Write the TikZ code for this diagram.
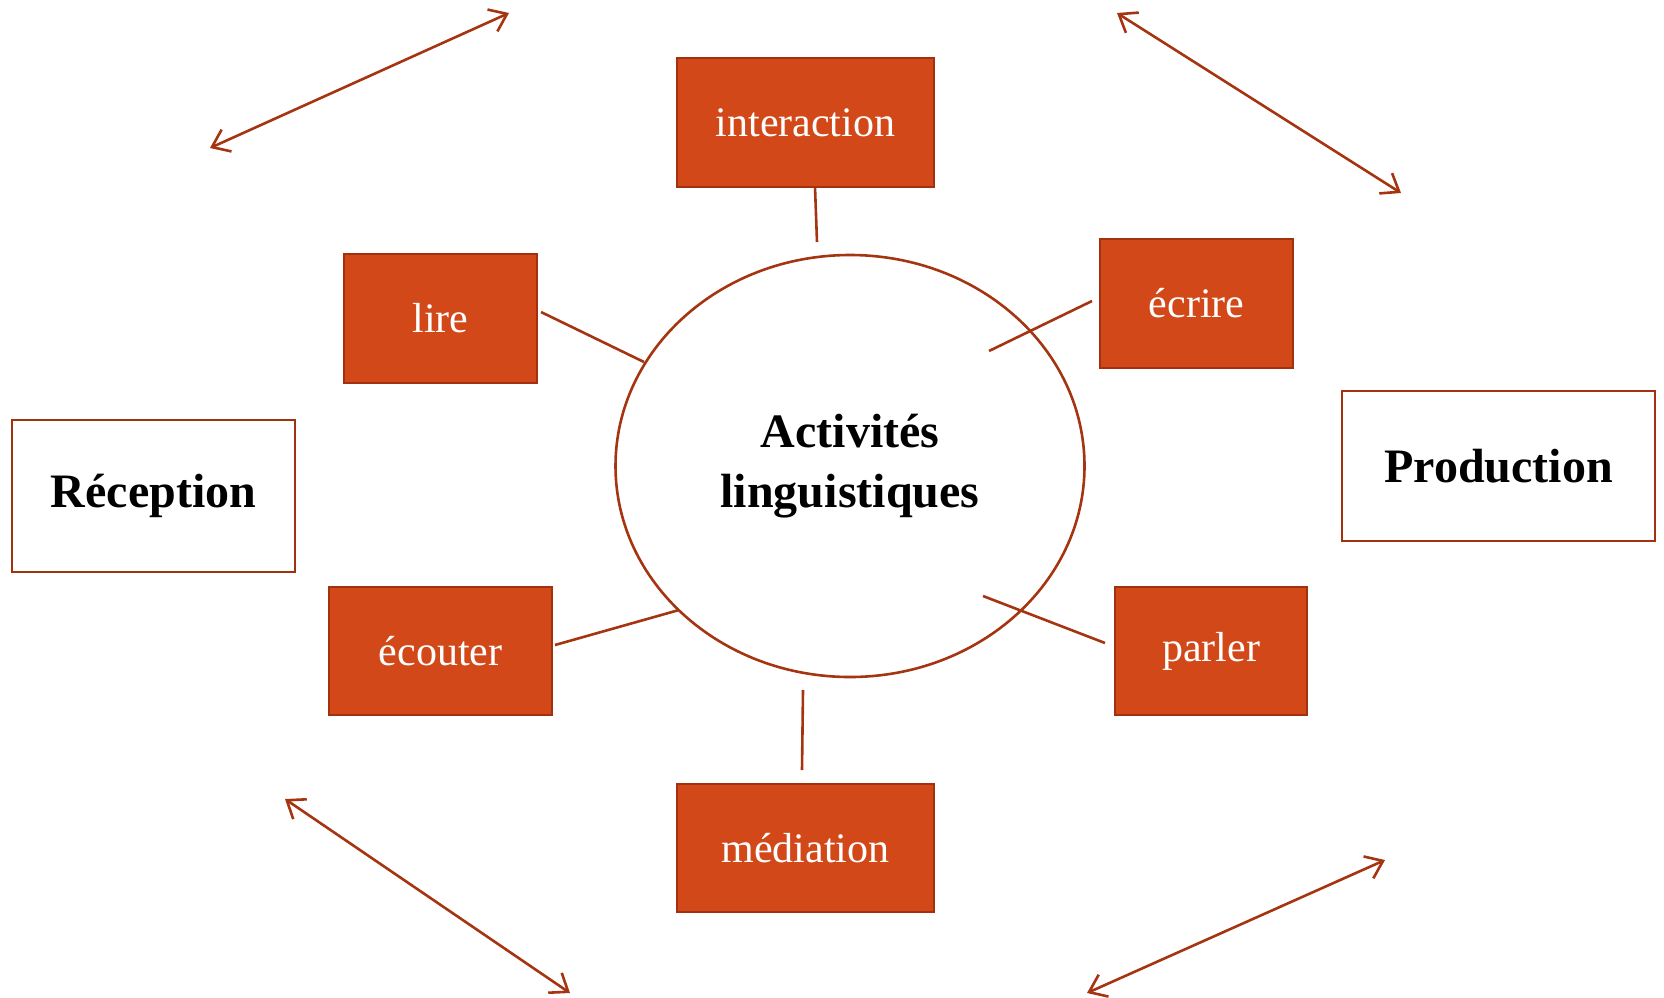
\documentclass[tikz,border=0pt]{standalone}
\usepackage{fontspec}
\setmainfont{Liberation Serif}
\usetikzlibrary{arrows.meta,shapes.geometric}
\definecolor{boxfill}{RGB}{210,72,24}
\definecolor{boxline}{RGB}{162,50,14}
\definecolor{lnk}{RGB}{165,52,16}
\tikzset{
  actbox/.style={rectangle,draw=boxline,line width=1.1pt,fill=boxfill,text=white,font=\fontsize{21}{25}\selectfont,inner sep=0pt},
  catbox/.style={rectangle,draw=boxline,line width=1.1pt,fill=white,text=black,font=\fontsize{24}{28}\selectfont\bfseries,inner sep=0pt},
  link/.style={draw=lnk,line width=1.3pt},
  dbl/.style={draw=lnk,line width=1.3pt,{Straight Barb[length=8pt,width=12pt,line width=1.3pt]}-{Straight Barb[length=8pt,width=12pt,line width=1.3pt]}}
}
\begin{document}
\begin{tikzpicture}[x=0.5pt,y=-0.5pt]
\useasboundingbox (0,0) rectangle (1664,997);
% central ellipse
\node[ellipse,draw=lnk,line width=1.3pt,minimum width=234.5pt,minimum height=211pt,inner sep=0pt,
  align=center,font=\fontsize{24}{29}\selectfont\bfseries] (centre) at (850,466) {Activités\\[1pt]linguistiques};
% activity boxes
\node[actbox,minimum width=128.5pt,minimum height=64.5pt] (interaction) at (805.5,122.5) {interaction};
\node[actbox,minimum width=96.5pt,minimum height=64.5pt] (lire) at (440.5,318.5) {lire};
\node[actbox,minimum width=96.5pt,minimum height=64.5pt] (ecrire) at (1196.5,303.5) {écrire};
\node[actbox,minimum width=111.5pt,minimum height=64pt] (ecouter) at (440.5,651) {écouter};
\node[actbox,minimum width=96pt,minimum height=64pt] (parler) at (1211,651) {parler};
\node[actbox,minimum width=128.5pt,minimum height=64pt] (mediation) at (805.5,848) {médiation};
% category boxes
\node[catbox,minimum width=141.5pt,minimum height=76pt] (reception) at (153.5,496) {Réception};
\node[catbox,minimum width=156.5pt,minimum height=75pt] (production) at (1498.5,466) {Production};
% connector end points
\coordinate (i1) at (815,187);  \coordinate (i2) at (817,242);
\coordinate (l1) at (541,312);  \coordinate (l2) at (644,362);
\coordinate (e1) at (1092,301); \coordinate (e2) at (989,351);
\coordinate (c1) at (555,645);  \coordinate (c2) at (679,610);
\coordinate (p1) at (1105,643); \coordinate (p2) at (983,596);
\coordinate (m1) at (803,690);  \coordinate (m2) at (802,770);
\draw[link] (i1) -- (i2);
\draw[link] (l1) -- (l2);
\draw[link] (e1) -- (e2);
\draw[link] (c1) -- (c2);
\draw[link] (p1) -- (p2);
\draw[link] (m1) -- (m2);
% double arrows
\coordinate (a1) at (210,148);  \coordinate (a2) at (509,13);
\coordinate (b1) at (1117,13);  \coordinate (b2) at (1401,193);
\coordinate (c3) at (285,799);  \coordinate (c4) at (570,993);
\coordinate (d1) at (1087,993); \coordinate (d2) at (1385,860);
\draw[dbl] (a1) -- (a2);
\draw[dbl] (b1) -- (b2);
\draw[dbl] (c3) -- (c4);
\draw[dbl] (d1) -- (d2);
\end{tikzpicture}
\end{document}
